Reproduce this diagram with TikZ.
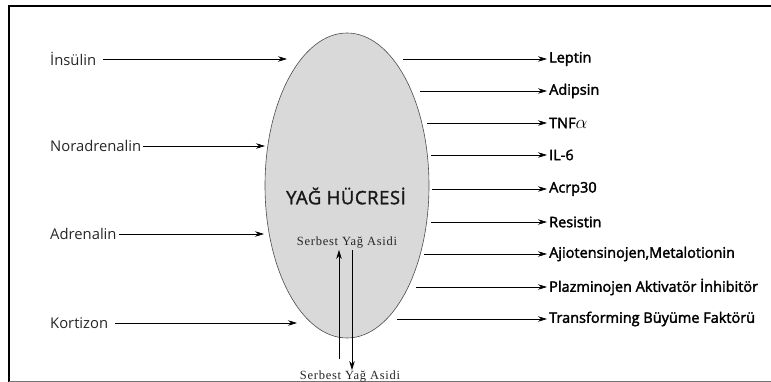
\documentclass[tikz,border=0pt]{standalone}
\usepackage{fontspec}
\usepackage{graphicx}
\setmainfont{Open Sans}
\newfontfamily\sfaserif[LetterSpace=6]{Liberation Serif}
\newfontfamily\rfont[FakeBold=2.2]{Open Sans}
\newfontfamily\tfont[FakeBold=1.6,LetterSpace=3]{Open Sans}
\usetikzlibrary{arrows.meta,shapes.geometric}
\begin{document}
\begin{tikzpicture}[x=1pt,y=-1pt,
  lbl/.style={anchor=west,inner sep=2pt,font=\fontsize{14.8}{17}\selectfont,text=black!85},
  rlbl/.style={anchor=west,inner sep=2pt,font=\rfont\fontsize{14.5}{17}\selectfont},
  sfa/.style={inner sep=1pt,font=\sfaserif\fontsize{12.5}{14}\selectfont,text=black!85},
  arr/.style={line width=0.7pt,-{Stealth[length=9pt,width=5.5pt]}},
  cellstyle/.style={ellipse,draw=black!70,line width=0.6pt,fill=black!15,minimum width=164pt,minimum height=305pt,inner sep=0pt}
]
\useasboundingbox (0,0) rectangle (771,382);
% frame
\draw[line width=2.5pt] (9,6) -- (771,6);
\draw[line width=2pt] (9,5) -- (9,382);
\draw[line width=1pt,black!55] (9,381) -- (771,381);
% cell
\node[cellstyle] (cell) at (347,185.5) {};
\node[font=\tfont\fontsize{18.5}{20}\selectfont,text=black!90] (title) at (346,196) {YAĞ HÜCRESİ};
% left inputs
\node[lbl] (ins) at (48,59) {İnsülin};
\node[lbl] (nor) at (48,146) {Noradrenalin};
\node[lbl] (adr) at (48,234) {Adrenalin};
\node[lbl] (kor) at (48,323) {Kortizon};
\coordinate (insE) at (287,59);
\coordinate (norE) at (265,146);
\coordinate (adrE) at (264,234);
\coordinate (korE) at (297,323);
\draw[arr,shorten <=5pt] (ins.east) -- (insE);
\draw[arr] (nor.east) -- (norE);
\draw[arr] (adr.east) -- (adrE);
\draw[arr,shorten <=5pt] (kor.east) -- (korE);
% right outputs
\node[rlbl] (lep) at (547,59) {Leptin};
\node[rlbl] (adi) at (547,91) {Adipsin};
\node[rlbl] (tnf) at (547,123) {TNF\scalebox{1.3}{$\alpha$}};
\node[rlbl] (il6) at (547,155) {IL-6};
\node[rlbl] (acr) at (547,189) {Acrp30};
\node[rlbl] (res) at (547,222) {Resistin};
\node[rlbl] (ajio) at (547,254) {Ajiotensinojen,Metalotionin};
\node[rlbl] (plaz) at (547,287) {Plazminojen Aktivatör İnhibitör};
\node[rlbl] (tgf) at (547,319) {Transforming Büyüme Faktörü};
\coordinate (lepS) at (403,59);
\coordinate (adiS) at (420,91);
\coordinate (tnfS) at (427,123);
\coordinate (il6S) at (431,155);
\coordinate (acrS) at (432,189);
\coordinate (resS) at (431,222);
\coordinate (ajioS) at (424,254);
\coordinate (plazS) at (416,287);
\coordinate (tgfS) at (397,319);
\foreach \n in {lep,adi,tnf,il6,acr,res,ajio,plaz,tgf}
  \draw[arr] (\n S) -- (\n.west);
% free fatty acids
\node[sfa] (sfa1) at (347,243) {Serbest Yağ Asidi};
\node[sfa] (sfa2) at (350,377) {Serbest Yağ Asidi};
\coordinate (upS) at (339,359);
\coordinate (dnx) at (352,0);
\draw[arr] (upS) -- (upS |- sfa1.south);
\draw[arr] (sfa1.south -| dnx) -- (sfa2.north -| dnx);
\end{tikzpicture}
\end{document}
